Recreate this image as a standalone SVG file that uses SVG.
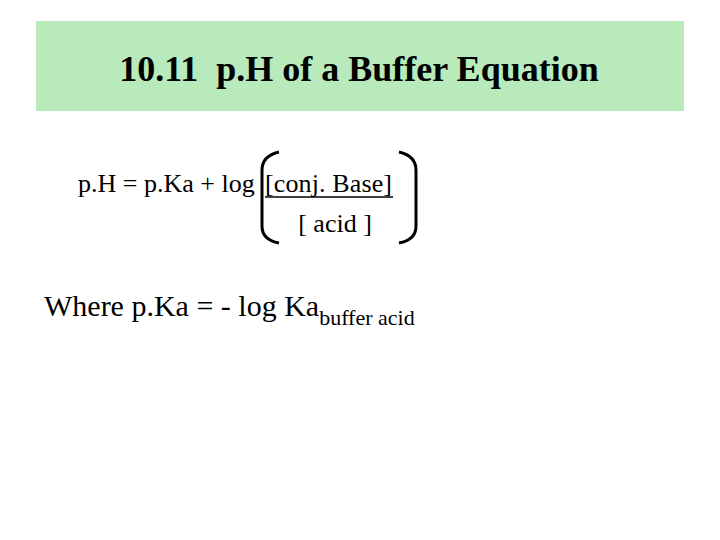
<svg xmlns="http://www.w3.org/2000/svg" width="720" height="540" viewBox="0 0 720 540">
<style>
text{font-family:"Liberation Serif","Times New Roman",serif;fill:#000;white-space:pre}
.p{fill:none;stroke:#000;stroke-width:3}
</style>
<rect width="720" height="540" fill="#fff"/>
<g id="title">
<rect x="36" y="21" width="648" height="90" fill="#b8eabb"/>
<text x="359" y="81" font-size="36" font-weight="bold" text-anchor="middle" xml:space="preserve">10.11  p.H of a Buffer Equation</text>
</g>
<g id="equation">
<text x="78" y="192" font-size="26">p.H = p.Ka + log</text>
<text x="265" y="192" font-size="26" textLength="127">[conj. Base]</text>
<line x1="265" y1="197" x2="393" y2="197" stroke="#000" stroke-width="1.5"/>
<text x="335" y="232" font-size="26" text-anchor="middle">[ acid ]</text>
<path class="p" d="M279 152 Q262 156 262 170 L262 226 Q262 240 279 243"/>
<path class="p" d="M399 152 Q416 156 416 170 L416 226 Q416 240 399 243"/>
</g>
<g id="where">
<text x="44" y="316" font-size="30">Where p.Ka = - log Ka<tspan font-size="22" dy="9">buffer acid</tspan></text>
</g>
</svg>
